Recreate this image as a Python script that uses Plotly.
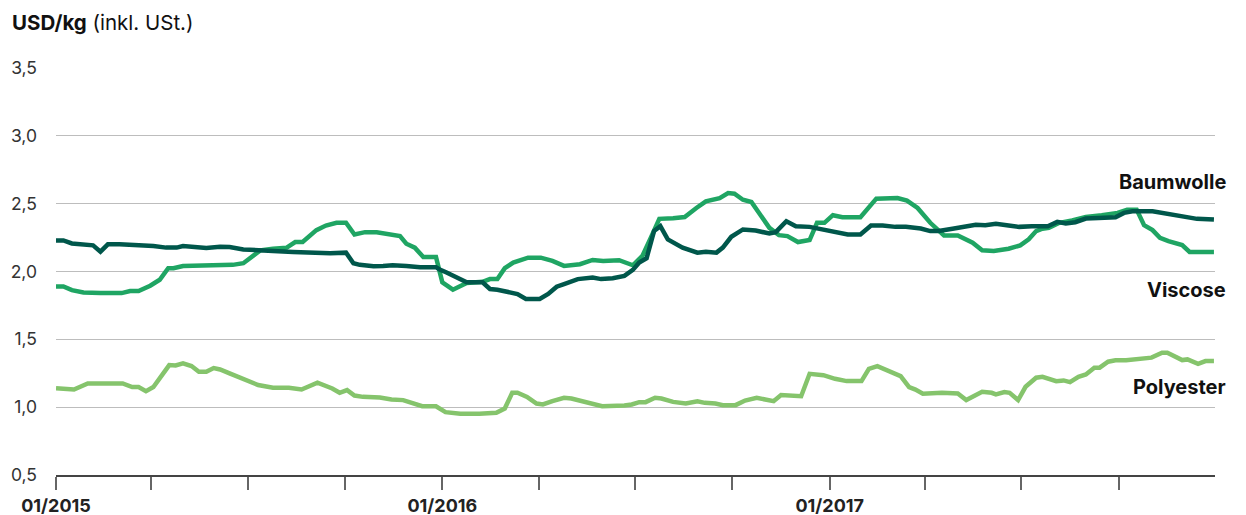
import plotly.graph_objects as go

# ---------------- data ----------------
poly_dates = ["2015-01-01","2015-01-18","2015-01-31","2015-03-05","2015-03-14","2015-03-20","2015-03-27","2015-04-03",
    "2015-04-18","2015-04-24","2015-05-01","2015-05-09","2015-05-16","2015-05-23","2015-05-30","2015-06-05","2015-06-14",
    "2015-06-26","2015-07-11","2015-07-25","2015-08-09","2015-08-21","2015-09-05","2015-09-19","2015-09-26","2015-10-03",
    "2015-10-10","2015-10-18","2015-11-03","2015-11-14","2015-11-25","2015-12-13","2015-12-26","2016-01-04","2016-01-18",
    "2016-02-05","2016-02-21","2016-02-29","2016-03-07","2016-03-12","2016-03-21","2016-03-30","2016-04-05","2016-04-14",
    "2016-04-25","2016-05-02","2016-05-16","2016-05-31","2016-06-21","2016-06-28","2016-07-05","2016-07-11","2016-07-20",
    "2016-07-26","2016-08-06","2016-08-18","2016-08-29","2016-09-05","2016-09-15","2016-09-22","2016-10-04","2016-10-13",
    "2016-10-24","2016-11-09","2016-11-16","2016-12-05","2016-12-13","2016-12-26","2017-01-06","2017-01-17","2017-01-31",
    "2017-02-07","2017-02-15","2017-02-24","2017-03-09","2017-03-17","2017-03-23","2017-03-30","2017-04-17","2017-05-02",
    "2017-05-10","2017-05-25","2017-06-03","2017-06-07","2017-06-15","2017-06-20","2017-06-28","2017-07-05","2017-07-15",
    "2017-07-21","2017-08-03","2017-08-10","2017-08-16","2017-08-24","2017-08-31","2017-09-08","2017-09-13","2017-09-21",
    "2017-09-28","2017-10-08","2017-10-15","2017-10-23","2017-11-01","2017-11-11","2017-11-16","2017-11-30","2017-12-05",
    "2017-12-15","2017-12-22","2017-12-30"]
poly_values = [1.14,1.13,1.175,1.175,1.148,1.148,1.118,1.148,
    1.31,1.308,1.323,1.303,1.261,1.261,1.288,1.278,1.249,
    1.212,1.163,1.143,1.143,1.13,1.18,1.138,1.106,1.126,
    1.086,1.076,1.071,1.057,1.052,1.007,1.007,0.963,0.951,
    0.951,0.958,0.99,1.106,1.106,1.076,1.027,1.02,1.044,
    1.069,1.064,1.037,1.007,1.012,1.02,1.037,1.037,1.069,
    1.064,1.039,1.027,1.044,1.032,1.027,1.015,1.015,1.049,
    1.069,1.044,1.089,1.081,1.246,1.236,1.209,1.192,1.192,
    1.283,1.303,1.273,1.229,1.148,1.13,1.099,1.106,1.101,
    1.052,1.113,1.106,1.094,1.111,1.106,1.052,1.15,1.217,
    1.224,1.192,1.197,1.185,1.224,1.241,1.291,1.291,1.335,
    1.345,1.345,1.352,1.352,1.365,1.401,1.401,1.347,1.352,
    1.32,1.34,1.34]

baum_dates = ["2015-01-01","2015-01-08","2015-01-16","2015-01-27","2015-02-05","2015-02-12","2015-02-19","2015-03-02",
    "2015-03-18","2015-04-03","2015-04-15","2015-04-25","2015-05-01","2015-05-11","2015-05-23","2015-06-05","2015-06-14",
    "2015-06-27","2015-07-09","2015-07-25","2015-08-13","2015-09-01","2015-09-17","2015-10-02","2015-10-09","2015-10-15",
    "2015-10-28","2015-11-06","2015-11-15","2015-11-28","2015-12-11","2015-12-26","2015-12-29","2016-01-05","2016-01-11",
    "2016-01-24","2016-02-08","2016-02-15","2016-02-22","2016-03-01","2016-03-12","2016-03-20","2016-04-02","2016-04-10",
    "2016-04-18","2016-04-25","2016-05-08","2016-05-22","2016-05-30","2016-06-10","2016-06-21","2016-06-29","2016-07-05",
    "2016-07-12","2016-07-19","2016-07-25","2016-08-01","2016-08-15","2016-08-29","2016-09-06","2016-09-16","2016-09-22",
    "2016-09-30","2016-10-11","2016-10-23","2016-11-05","2016-11-11","2016-11-21","2016-11-30","2016-12-13","2016-12-27",
    "2017-01-04","2017-01-18","2017-01-30","2017-02-09","2017-02-20","2017-03-04","2017-03-14","2017-03-28","2017-04-06",
    "2017-04-14","2017-04-27","2017-05-10","2017-05-19","2017-05-28","2017-06-07","2017-06-19","2017-06-29","2017-07-11",
    "2017-07-26","2017-08-04","2017-08-12","2017-08-21","2017-08-31","2017-09-12","2017-09-28","2017-10-06","2017-10-14",
    "2017-11-02","2017-11-11","2017-11-20","2017-12-03","2017-12-14","2017-12-30"]
baum_values = [2.229,2.229,2.207,2.2,2.193,2.146,2.2,2.2,
    2.195,2.188,2.176,2.176,2.188,2.18,2.173,2.183,2.18,
    2.163,2.156,2.151,2.144,2.137,2.134,2.139,2.061,2.049,
    2.039,2.041,2.046,2.041,2.032,2.032,2.017,1.993,1.968,
    1.92,1.92,1.871,1.866,1.851,1.834,1.798,1.798,1.834,
    1.888,1.907,1.944,1.956,1.944,1.951,1.968,2.012,2.066,
    2.098,2.298,2.334,2.237,2.176,2.139,2.146,2.139,2.176,
    2.256,2.31,2.302,2.28,2.29,2.371,2.334,2.329,2.31,
    2.293,2.273,2.273,2.339,2.339,2.329,2.329,2.317,2.298,
    2.298,2.315,2.334,2.344,2.341,2.351,2.339,2.329,2.334,
    2.334,2.366,2.354,2.363,2.39,2.395,2.4,2.432,2.444,
    2.444,2.432,2.42,2.402,2.388,2.383]

visc_dates = ["2015-01-01","2015-01-08","2015-01-16","2015-01-27","2015-02-12","2015-03-04","2015-03-12","2015-03-20",
    "2015-03-31","2015-04-09","2015-04-17","2015-04-22","2015-05-01","2015-05-14","2015-05-23","2015-06-05","2015-06-17",
    "2015-06-27","2015-07-05","2015-07-13","2015-07-25","2015-08-07","2015-08-15","2015-08-22","2015-09-04","2015-09-13",
    "2015-09-23","2015-10-02","2015-10-10","2015-10-20","2015-10-31","2015-11-09","2015-11-22","2015-11-28","2015-12-06",
    "2015-12-14","2015-12-26","2016-01-01","2016-01-11","2016-01-24","2016-02-08","2016-02-15","2016-02-22","2016-02-29",
    "2016-03-08","2016-03-22","2016-04-03","2016-04-14","2016-04-25","2016-05-10","2016-05-22","2016-06-01","2016-06-16",
    "2016-06-29","2016-07-08","2016-07-16","2016-07-24","2016-08-06","2016-08-17","2016-08-28","2016-09-06","2016-09-19",
    "2016-09-27","2016-10-03","2016-10-11","2016-10-19","2016-10-28","2016-11-05","2016-11-14","2016-11-22","2016-12-02",
    "2016-12-13","2016-12-20","2016-12-27","2017-01-04","2017-01-13","2017-01-30","2017-02-14","2017-03-06","2017-03-15",
    "2017-03-25","2017-04-06","2017-04-19","2017-05-02","2017-05-16","2017-05-25","2017-06-05","2017-06-19","2017-06-30",
    "2017-07-08","2017-07-15","2017-07-21","2017-07-27","2017-08-06","2017-08-18","2017-08-31","2017-09-15","2017-09-30",
    "2017-10-09","2017-10-18","2017-10-25","2017-11-02","2017-11-09","2017-11-17","2017-11-30","2017-12-07","2017-12-18",
    "2017-12-30"]
visc_values = [1.89,1.89,1.863,1.846,1.841,1.841,1.856,1.856,
    1.895,1.939,2.024,2.024,2.041,2.041,2.041,2.046,2.049,
    2.061,2.11,2.156,2.168,2.176,2.217,2.217,2.305,2.339,
    2.359,2.359,2.273,2.29,2.29,2.28,2.261,2.205,2.176,
    2.107,2.107,1.92,1.866,1.915,1.924,1.944,1.944,2.024,
    2.066,2.102,2.102,2.078,2.041,2.054,2.085,2.078,2.083,
    2.046,2.115,2.249,2.388,2.393,2.402,2.468,2.517,2.541,
    2.578,2.573,2.529,2.512,2.407,2.322,2.268,2.261,2.217,
    2.232,2.359,2.359,2.415,2.4,2.4,2.537,2.541,2.522,
    2.468,2.359,2.266,2.266,2.212,2.156,2.151,2.168,2.193,
    2.237,2.298,2.315,2.322,2.359,2.376,2.402,2.415,2.432,
    2.456,2.456,2.341,2.305,2.249,2.224,2.195,2.144,2.144,
    2.144]

tick_dates = ["2015-01-01","2015-04-01","2015-07-01","2015-10-01","2016-01-01","2016-04-01","2016-07-01",
              "2016-10-01","2017-01-01","2017-04-01","2017-07-01","2017-10-01"]
tick_texts = ["01/2015","","","","01/2016","","","","01/2017","","",""]
y_ticks = [0.5, 1.0, 1.5, 2.0, 2.5, 3.0, 3.5]

series_names = ["Polyester", "Viscose", "Baumwolle"]
series_colors = {"Polyester": "#85C46C", "Viscose": "#1FA563", "Baumwolle": "#00574B"}
label_pos = {"Baumwolle": 2.66, "Viscose": 1.865, "Polyester": 1.15}

FONT = "Inter, Roboto, Arial, sans-serif"

fig = go.Figure()
fig.add_trace(go.Scatter(x=poly_dates, y=poly_values, mode="lines", name="Polyester",
                         line=dict(color=series_colors["Polyester"], width=4.5)))
fig.add_trace(go.Scatter(x=visc_dates, y=visc_values, mode="lines", name="Viscose",
                         line=dict(color=series_colors["Viscose"], width=4.5)))
fig.add_trace(go.Scatter(x=baum_dates, y=baum_values, mode="lines", name="Baumwolle",
                         line=dict(color=series_colors["Baumwolle"], width=4.5)))

for nm in series_names:
    fig.add_annotation(xref="paper", yref="y", x=1.0112, y=label_pos[nm], text="<b>%s</b>" % nm,
                       showarrow=False, xanchor="right", yanchor="middle",
                       font=dict(family=FONT, size=20, color="#111"))

fig.add_annotation(xref="paper", yref="paper", x=-0.0397, y=1.113,
                   text="<b>USD/kg</b> (inkl. USt.)", showarrow=False,
                   xanchor="left", yanchor="middle",
                   font=dict(family=FONT, size=20.5, color="#111"))

# the page body adds an 8 px offset, so the figure is placed 8 px up/left
fig.update_layout(
    width=1238, height=507,
    margin=dict(l=48, r=31, t=60, b=40, autoexpand=False),
    paper_bgcolor="white", plot_bgcolor="white",
    showlegend=False,
    separators=", ",
    font=dict(family=FONT, size=17, color="#333"),
    xaxis=dict(type="date", range=["2015-01-01", "2017-12-31"],
               tickvals=tick_dates, ticktext=tick_texts, automargin=False,
               ticks="outside", ticklen=13, tickwidth=1.5, tickcolor="#666",
               showline=True, linecolor="#444", linewidth=2,
               showgrid=False, zeroline=False,
               tickfont=dict(family=FONT, size=18, color="#222", weight="bold")),
    yaxis=dict(range=[0.5, 3.5], tickvals=y_ticks, tickformat=".1f", automargin=False,
               showgrid=True, gridcolor="#BDBDBD", gridwidth=1,
               zeroline=False, showline=False, ticks="",
               ticklabelstandoff=18,
               tickfont=dict(family=FONT, size=17.5, color="#333")),
)

fig.write_html("out.html")
